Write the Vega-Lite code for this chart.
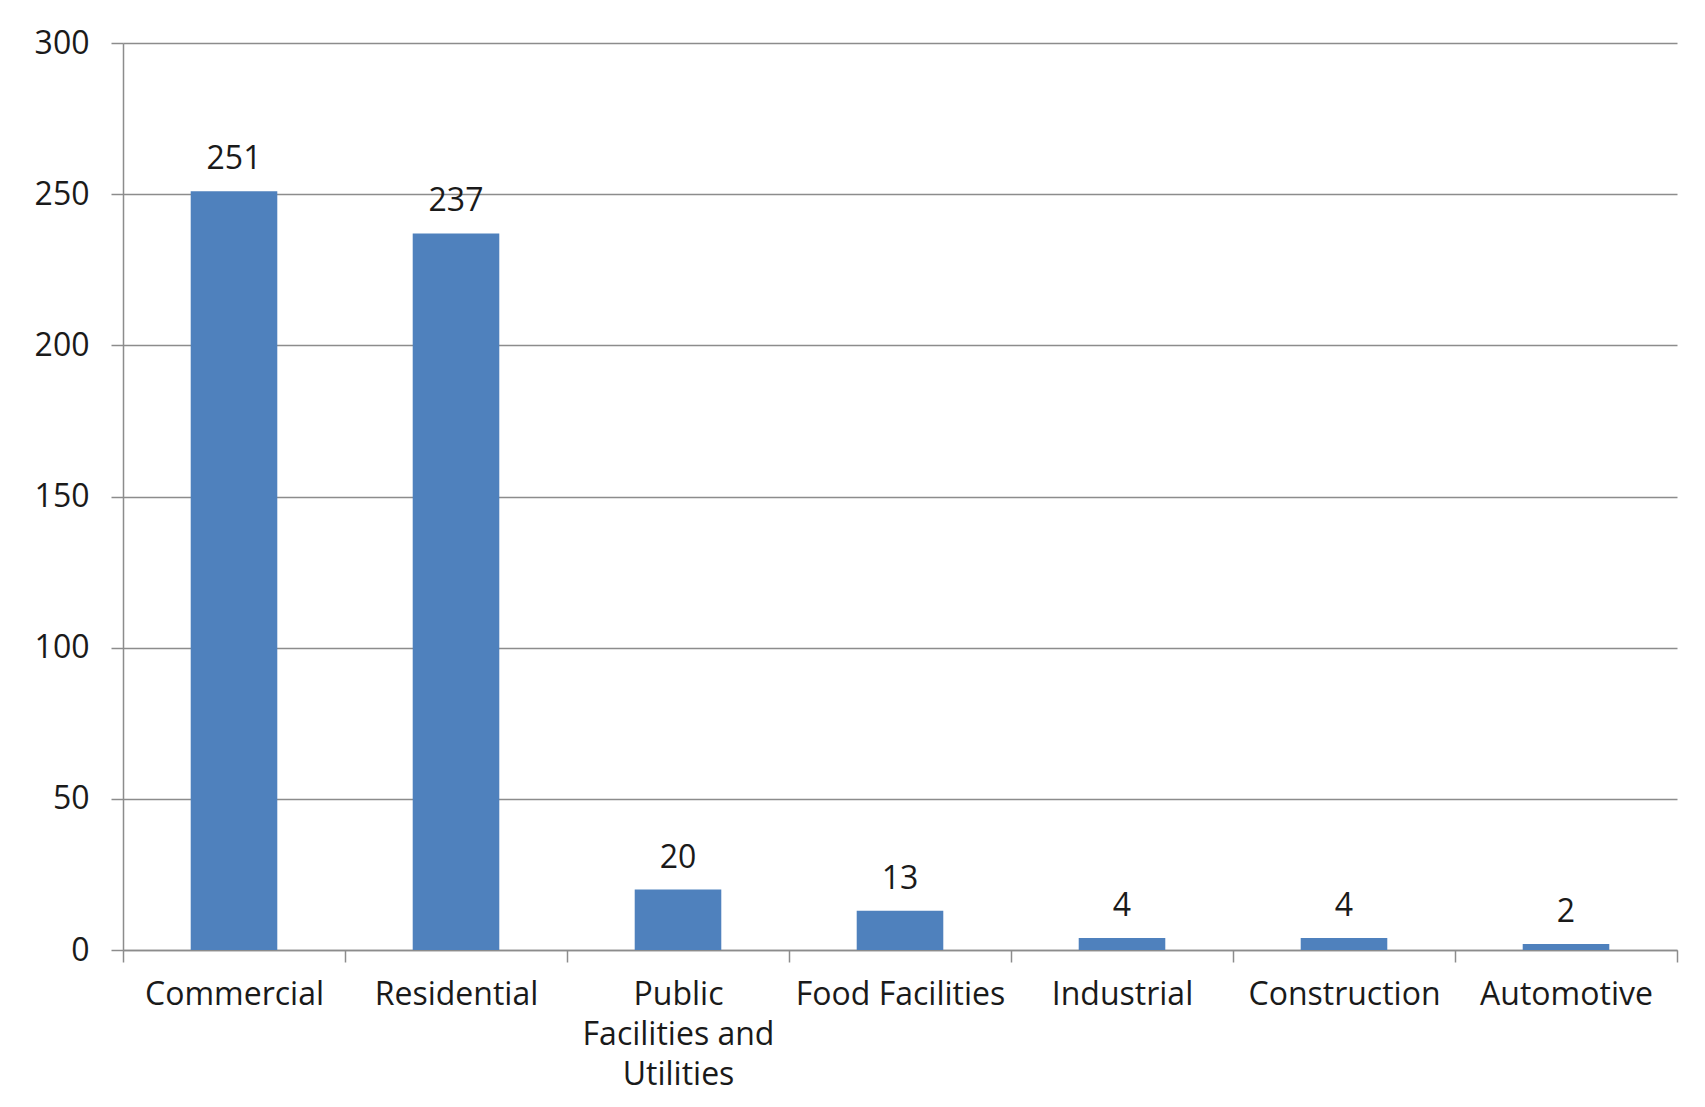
{
  "$schema": "https://vega.github.io/schema/vega-lite/v6.json",
  "width": 1554,
  "height": 907,
  "autosize": {"type": "none"},
  "padding": {"left": 123, "top": 43, "right": 28, "bottom": 157},
  "background": "white",
  "config": {"view": {"stroke": null}, "font": "Open Sans"},
  "data": {
    "values": [
      {"category": "Commercial", "value": 251},
      {"category": "Residential", "value": 237},
      {"category": "Public Facilities and Utilities", "value": 20},
      {"category": "Food Facilities", "value": 13},
      {"category": "Industrial", "value": 4},
      {"category": "Construction", "value": 4},
      {"category": "Automotive", "value": 2}
    ]
  },
  "encoding": {
    "x": {
      "field": "category",
      "type": "nominal",
      "sort": null,
      "scale": {"paddingInner": 0, "paddingOuter": 0},
      "axis": {
        "title": null,
        "labelAngle": 0,
        "tickBand": "extent",
        "tickSize": 12,
        "tickColor": "#8c8c8c",
        "tickWidth": 1.5,
        "domainColor": "#8c8c8c",
        "domainWidth": 1.5,
        "labelFontSize": 32,
        "labelColor": "#1a1a1a",
        "labelPadding": 17,
        "labelLineHeight": 40,
        "labelLimit": 0,
        "labelExpr": "datum.label == 'Public Facilities and Utilities' ? ['Public', 'Facilities and', 'Utilities'] : datum.label"
      }
    },
    "y": {
      "field": "value",
      "type": "quantitative",
      "scale": {"domain": [0, 300]},
      "axis": {
        "title": null,
        "values": [0, 50, 100, 150, 200, 250, 300],
        "grid": true,
        "gridColor": "#8c8c8c",
        "gridWidth": 1.5,
        "tickSize": 12,
        "tickColor": "#8c8c8c",
        "tickWidth": 1.5,
        "domainColor": "#8c8c8c",
        "domainWidth": 1.5,
        "labelFontSize": 32,
        "labelColor": "#1a1a1a",
        "labelPadding": 22
      }
    }
  },
  "layer": [
    {"mark": {"type": "bar", "color": "#4F81BD", "width": {"band": 0.39}}},
    {
      "mark": {"type": "text", "baseline": "alphabetic", "dy": -22, "fontSize": 32, "color": "#1a1a1a"},
      "encoding": {"text": {"field": "value", "type": "quantitative"}}
    }
  ]
}
